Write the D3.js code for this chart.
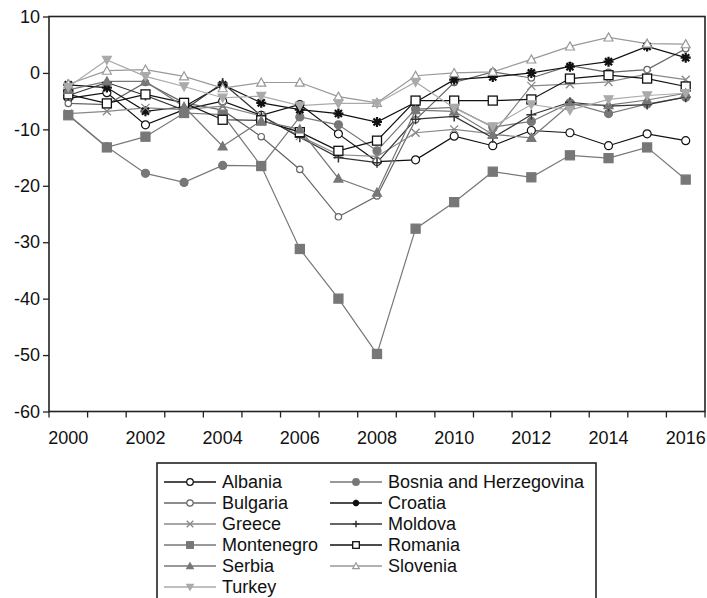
<!DOCTYPE html>
<html>
<head>
<meta charset="utf-8">
<script src="https://cdn.jsdelivr.net/npm/d3@7"></script>
<style>
  html, body { margin: 0; padding: 0; background: #fff; }
  svg { display: block; font-family: "Liberation Sans", Arial, sans-serif; }
</style>
</head>
<body>
<svg id="chart" width="707" height="598"></svg>
<script>
// Years on the horizontal axis
const years = [2000, 2001, 2002, 2003, 2004, 2005, 2006, 2007, 2008,
               2009, 2010, 2011, 2012, 2013, 2014, 2015, 2016];
const yTicks = [10, 0, -10, -20, -30, -40, -50, -60];

// Series values (% of GDP), one array per country
const albania     = [-4.5, -3.5, -9.2, -6.5, -5.0, -7.5, -5.6, -10.8, -15.7, -15.4, -11.2, -12.9, -10.2, -10.6, -12.9, -10.8, -12.0];
const bosnia      = [-7.4, -13.1, -17.8, -19.4, -16.4, -16.5, -7.8, -9.2, -13.8, -6.4, -6.1, -9.6, -8.6, -5.3, -7.2, -5.5, -4.3];
const bulgaria    = [-5.4, -5.6, -1.7, -5.3, -6.6, -11.3, -17.1, -25.5, -21.8, -8.3, -1.7, 0.2, -0.9, 1.3, 0.1, 0.6, 4.3];
const croatia     = [-2.1, -2.6, -6.8, -6.0, -2.1, -5.3, -6.5, -7.2, -8.7, -5.2, -1.2, -0.7, 0.0, 1.1, 2.0, 4.7, 2.7];
const greece      = [-7.2, -6.8, -6.2, -6.5, -5.9, -7.6, -11.2, -14.5, -14.8, -10.6, -10.0, -10.8, -2.3, -2.0, -1.6, -0.2, -1.2];
const moldova     = [-4.0, -1.7, -4.0, -6.6, -1.8, -7.6, -11.4, -15.0, -15.9, -8.2, -7.7, -11.5, -7.4, -5.2, -5.9, -5.6, -4.3];
const montenegro  = [-7.5, -13.2, -11.3, -7.1, -7.4, -16.5, -31.2, -40.0, -49.8, -27.6, -22.9, -17.5, -18.5, -14.6, -15.1, -13.2, -18.9];
const romania     = [-3.8, -5.4, -3.8, -5.3, -8.3, -8.4, -10.5, -13.8, -12.0, -4.9, -4.9, -4.9, -4.7, -1.0, -0.4, -1.0, -2.4];
const serbia      = [-3.0, -1.5, -1.5, -6.0, -13.0, -8.5, -10.0, -18.7, -21.2, -6.6, -6.8, -10.9, -11.5, -5.6, -5.7, -4.8, -3.6];
const slovenia    = [-2.0, 0.4, 0.6, -0.6, -2.7, -1.7, -1.7, -4.2, -5.3, -0.5, 0.0, 0.2, 2.4, 4.7, 6.3, 5.2, 5.1];
const turkey      = [-2.5, 2.3, -0.6, -2.4, -4.4, -4.1, -5.8, -5.4, -5.4, -1.6, -6.2, -9.5, -5.6, -6.6, -4.7, -4.0, -3.6];

const countries = ["Albania", "Bosnia and Herzegovina", "Bulgaria", "Croatia", "Greece",
                   "Moldova", "Montenegro", "Romania", "Serbia", "Slovenia", "Turkey"];
const seriesValues = [albania, bosnia, bulgaria, croatia, greece, moldova,
                      montenegro, romania, serbia, slovenia, turkey];

// Line colour and marker style per country
const styles = {
  "Albania":                { color: "#111", marker: "circle",   fill: "#fff", r: 4 },
  "Bosnia and Herzegovina": { color: "#777", marker: "circle",   fill: "#777", r: 4 },
  "Bulgaria":               { color: "#666", marker: "circle",   fill: "#fff", r: 3.2 },
  "Croatia":                { color: "#111", marker: "asterisk", fill: "none", r: 5 },
  "Greece":                 { color: "#888", marker: "x",        fill: "none", r: 4 },
  "Moldova":                { color: "#333", marker: "plus",     fill: "none", r: 5 },
  "Montenegro":             { color: "#777", marker: "square",   fill: "#777", r: 4.5 },
  "Romania":                { color: "#111", marker: "square",   fill: "#fff", r: 4.5 },
  "Serbia":                 { color: "#777", marker: "triUp",    fill: "#777", r: 4.5 },
  "Slovenia":               { color: "#999", marker: "triUp",    fill: "#fff", r: 4.5 },
  "Turkey":                 { color: "#aaa", marker: "triDown",  fill: "#aaa", r: 4.5 }
};

const legendCol1 = ["Albania", "Bulgaria", "Greece", "Montenegro", "Serbia", "Turkey"];
const legendCol2 = ["Bosnia and Herzegovina", "Croatia", "Moldova", "Romania", "Slovenia"];

const svg = d3.select("#chart");
const plot = { left: 49, right: 705, top: 16.5, bottom: 411.5 };

const x = d3.scaleBand().domain(years).range([plot.left, plot.right]).padding(0);
const y = d3.scaleLinear().domain([-60, 10]).range([plot.bottom, plot.top]);
const cx = yr => x(yr) + x.bandwidth() / 2;

// Marker drawing
function drawMarker(g, type, r, color, fill) {
  if (type === "circle") {
    g.append("circle").attr("r", r).attr("fill", fill).attr("stroke", color).attr("stroke-width", 1.2);
  } else if (type === "square") {
    g.append("rect").attr("x", -r).attr("y", -r).attr("width", 2 * r).attr("height", 2 * r)
      .attr("fill", fill).attr("stroke", color).attr("stroke-width", 1.3);
  } else if (type === "triUp" || type === "triDown") {
    const s = type === "triUp" ? 1 : -1;
    const pts = [[0, -r * s], [r, r * 0.8 * s], [-r, r * 0.8 * s]];
    g.append("path").attr("d", d3.line()(pts) + "Z")
      .attr("fill", fill).attr("stroke", color).attr("stroke-width", 1.2);
  } else if (type === "asterisk") {
    const p = d3.path();
    for (let k = 0; k < 4; k++) {
      const a = k * Math.PI / 4;
      p.moveTo(-r * Math.cos(a), -r * Math.sin(a));
      p.lineTo(r * Math.cos(a), r * Math.sin(a));
    }
    g.append("path").attr("d", p.toString()).attr("stroke", color).attr("stroke-width", 2.2);
  } else if (type === "x") {
    const p = d3.path();
    p.moveTo(-r, -r); p.lineTo(r, r); p.moveTo(-r, r); p.lineTo(r, -r);
    g.append("path").attr("d", p.toString()).attr("stroke", color).attr("stroke-width", 1.3);
  } else if (type === "plus") {
    const p = d3.path();
    p.moveTo(0, -r); p.lineTo(0, r); p.moveTo(-r, 0); p.lineTo(r, 0);
    g.append("path").attr("d", p.toString()).attr("stroke", color).attr("stroke-width", 1.5);
  }
}

// Series lines and markers
const line = d3.line().x((d, i) => cx(years[i])).y(d => y(d));
countries.forEach((name, k) => {
  const st = styles[name];
  svg.append("path").datum(seriesValues[k]).attr("d", line)
    .attr("fill", "none").attr("stroke", st.color).attr("stroke-width", 1.2);
});
countries.forEach((name, k) => {
  const st = styles[name];
  seriesValues[k].forEach((v, i) => {
    const g = svg.append("g").attr("transform", `translate(${cx(years[i])},${y(v)})`);
    drawMarker(g, st.marker, st.r, st.color, st.fill);
  });
});

// Plot frame
svg.append("rect")
  .attr("x", plot.left).attr("y", plot.top)
  .attr("width", plot.right - plot.left).attr("height", plot.bottom - plot.top)
  .attr("fill", "none").attr("stroke", "#222").attr("stroke-width", 1.6);

// Y axis
const yAxis = svg.append("g").attr("transform", `translate(${plot.left},0)`)
  .call(d3.axisLeft(y).tickValues(yTicks).tickSize(6).tickPadding(3).tickFormat(d => String(d)));
yAxis.select(".domain").remove();
yAxis.selectAll("line").attr("stroke", "#222").attr("stroke-width", 1.3);
yAxis.selectAll("text").attr("font-size", 18).attr("fill", "#111")
  .attr("font-family", '"Liberation Sans", Arial, sans-serif');

// X axis: ticks at year boundaries, labels on even years
const xAxis = svg.append("g");
years.concat([null]).forEach((yr) => {
  const xp = yr === null ? plot.right : x(yr);
  xAxis.append("line").attr("x1", xp).attr("x2", xp)
    .attr("y1", plot.bottom).attr("y2", plot.bottom + 6)
    .attr("stroke", "#222").attr("stroke-width", 1.3);
});
years.filter(yr => yr % 2 === 0).forEach(yr => {
  xAxis.append("text").attr("x", cx(yr)).attr("y", plot.bottom + 32)
    .attr("text-anchor", "middle").attr("font-size", 18).attr("fill", "#111")
    .text(yr);
});

// Legend
const legend = svg.append("g");
legend.append("rect").attr("x", 157).attr("y", 463).attr("width", 439).attr("height", 145)
  .attr("fill", "#fff").attr("stroke", "#222").attr("stroke-width", 1.6);
function legendEntry(name, row, col) {
  const st = styles[name];
  const ly = 482 + row * 21;
  const x0 = col === 0 ? 164 : 330;
  const x1 = col === 0 ? 216 : 382;
  const g = legend.append("g");
  g.append("line").attr("x1", x0).attr("x2", x1).attr("y1", ly).attr("y2", ly)
    .attr("stroke", st.color).attr("stroke-width", 1.3);
  const m = g.append("g").attr("transform", `translate(${(x0 + x1) / 2},${ly})`);
  drawMarker(m, st.marker, Math.min(st.r, 3.3), st.color, st.fill);
  g.append("text").attr("x", x1 + 6).attr("y", ly + 6).attr("font-size", 18)
    .attr("fill", "#111").text(name);
}
legendCol1.forEach((n, i) => legendEntry(n, i, 0));
legendCol2.forEach((n, i) => legendEntry(n, i, 1));
</script>
</body>
</html>
